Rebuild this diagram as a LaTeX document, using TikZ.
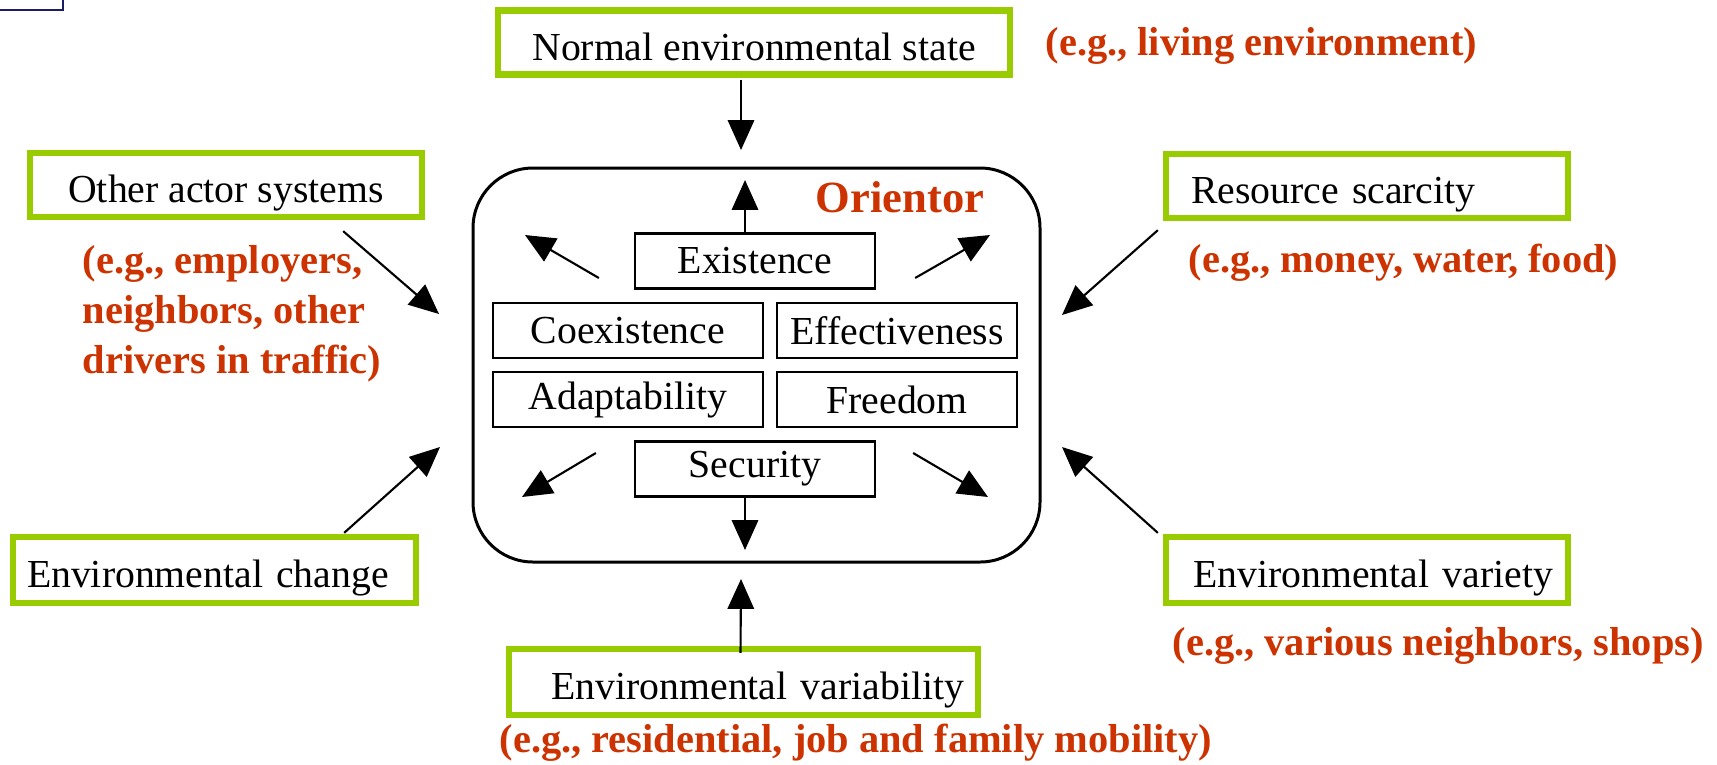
\documentclass[tikz,border=0pt]{standalone}
\usepackage{fontspec}
\setmainfont{Liberation Serif}
\usetikzlibrary{arrows.meta}
\definecolor{framegreen}{HTML}{99CC00}
\definecolor{egred}{HTML}{CC3300}
\definecolor{cornernavy}{HTML}{1C1C64}

\begin{document}
\begin{tikzpicture}[x=0.1mm,y=-0.1mm,
  factor/.style={draw=framegreen,line width=1.8pt,minimum height=6.4mm,inner sep=0pt,text height=3.5mm,text depth=0pt,font=\fontsize{11.3}{13.6}\selectfont},
  orientation/.style={draw,line width=0.65pt,minimum width=24mm,minimum height=5.5mm,inner sep=0pt,font=\fontsize{11.3}{13.6}\selectfont},
  example/.style={text=egred,font=\fontsize{11.5}{14.2}\selectfont\bfseries,inner sep=0pt,align=left},
  impact/.style={-{Triangle[length=8.5pt,width=7.5pt]},line width=0.6pt}]
\useasboundingbox (0,0) rectangle (1717,764);
%corner fragment
\draw[cornernavy,line width=0.6pt] (0,10) -| (63,0);
%Orientor
\node[draw,line width=0.85pt,rounded corners=6mm,minimum width=56.7mm,minimum height=39.4mm] (orientor) at (756.5,365) {};
\node[text=egred,font=\fontsize{12.7}{15}\selectfont\bfseries,anchor=base west,inner sep=0pt] (title) at (815,212) {Orientor};
\node[orientation] (existence) at (755,261) {Existence};
\node[orientation,minimum width=27mm] (coexistence) at (628,330.5) {Coexistence};
\node[orientation] (effectiveness) at (897,330.5) {Effectiveness};
\node[orientation,minimum width=27mm] (adaptability) at (628,399.5) {Adaptability};
\node[orientation] (freedom) at (897,399.5) {Freedom};
\node[orientation] (security) at (755,469) {Security};
\coordinate (upTip) at (745,180);
\coordinate (nwTip) at (525,235);
\coordinate (neTip) at (990,235);
\coordinate (swTip) at (522,497);
\coordinate (seTip) at (988,497);
\coordinate (downTip) at (745,550);
\draw[impact] (existence.north) ++(-10,0) -- (upTip);
\draw[impact] (existence.west) ++(-35,17) -- (nwTip);
\draw[impact] (existence.east) ++(39,17) -- (neTip);
\draw[impact] (security.west) ++(-38,-16) -- (swTip);
\draw[impact] (security.east) ++(37,-16) -- (seTip);
\draw[impact] (security.south) ++(-10,0) -- (downTip);
%environment
\node[factor,minimum width=51.2mm] (normal) at (754,42.5) {Normal environmental state};
\node[factor,minimum width=39.2mm] (other) at (226,185) {Other actor systems};
\node[factor,minimum width=40.2mm,text width=35.2mm,inner xsep=2.5mm,align=left] (scarcity) at (1367,186) {Resource scarcity};
\node[factor,minimum width=40.3mm,minimum height=6.6mm,text width=37.5mm,inner xsep=1.4mm,align=left] (change) at (214.5,570) {Environmental change};
\node[factor,minimum width=40.2mm,minimum height=6.6mm,text width=37.2mm,inner xsep=1.5mm,align=right] (variety) at (1367,570) {Environmental variety};
\node[factor,minimum width=46.9mm,minimum height=6.6mm,text width=44.1mm,inner xsep=1.4mm,align=right] (variability) at (743.5,682) {Environmental variability};
\coordinate (normalTip) at (741,150);
\coordinate (otherTip) at (439,314);
\coordinate (scarcityTip) at (1062,315);
\coordinate (changeTip) at (440,447);
\coordinate (varietyTip) at (1062,447);
\coordinate (variabilityTip) at (741,579);
\draw[impact] (normal.south) ++(-13,2) -- (normalTip);
\draw[impact] (other.south east) ++(-82,11) -- (otherTip);
\draw[impact] (scarcity.south west) ++(-5,9) -- (scarcityTip);
\draw[impact] (change.north east) ++(-75,-1) -- (changeTip);
\draw[impact] (variety.north west) ++(-5,-1) -- (varietyTip);
\draw[impact] (variability.north) ++(-3,7) -- (variabilityTip);
%examples
\node[example,anchor=base west] (normalEg) at (1045,55) {(e.g., living environment)};
\node[example,anchor=north west] (otherEg) at (82,245) {(e.g., employers,\\neighbors, other\\drivers in traffic)};
\node[example,anchor=base west] (scarcityEg) at (1188,272) {(e.g., money, water, food)};
\node[example,anchor=base west] (varietyEg) at (1172,655) {(e.g., various neighbors, shops)};
\node[example,anchor=base west] (variabilityEg) at (499,752) {(e.g., residential, job and family mobility)};
\end{tikzpicture}
\end{document}
